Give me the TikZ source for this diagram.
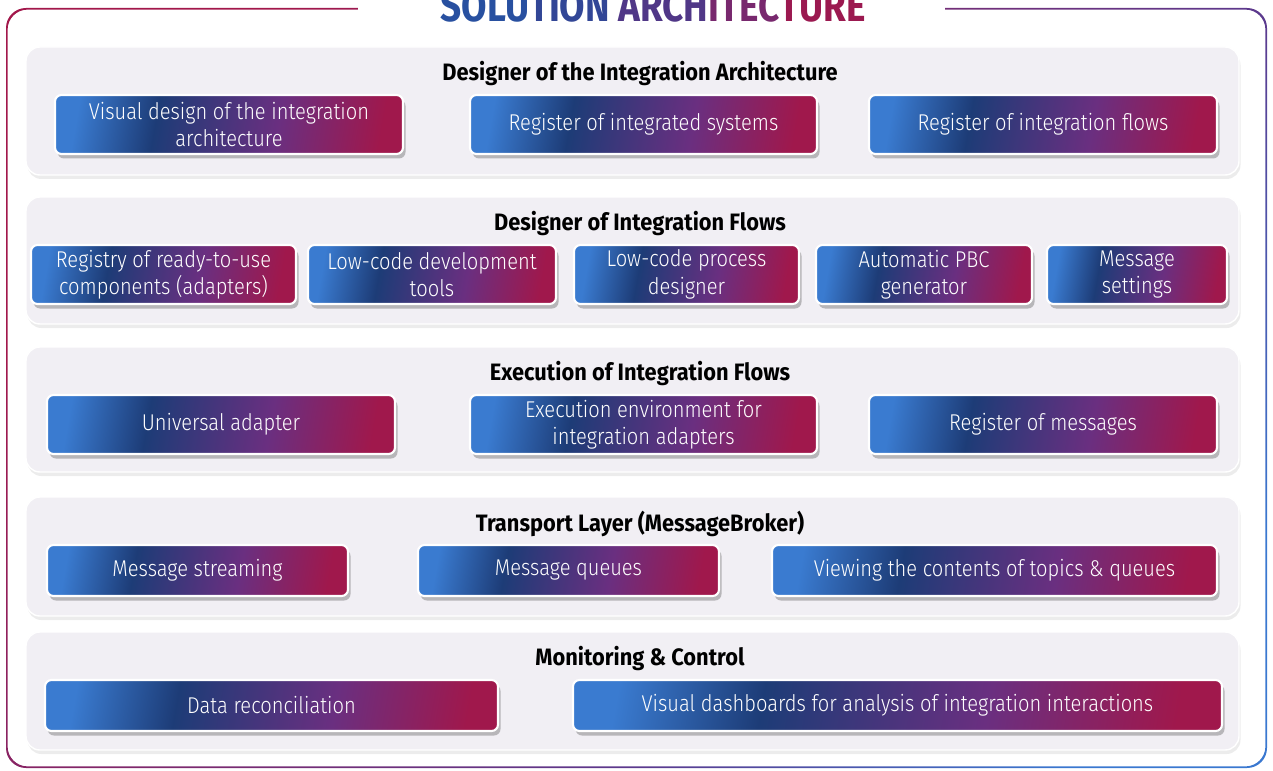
\documentclass[tikz,border=0pt]{standalone}
\usepackage{fontspec}
\usepackage{tikz}
\usetikzlibrary{shadows}
\newfontfamily\boxFont{Fira Sans Light}[FakeStretch=0.88]
\newfontfamily\layerFont{Fira Sans}[FakeStretch=0.92]
\newfontfamily\headFont{Fira Sans}[FakeStretch=0.84]
\definecolor{gradBlue}{RGB}{58,123,208}
\definecolor{gradNavy}{RGB}{29,60,119}
\definecolor{gradPurple}{RGB}{106,47,128}
\definecolor{gradCrimson}{RGB}{160,24,76}
\definecolor{panelGrey}{RGB}{241,239,244}
\definecolor{frameRed}{RGB}{162,23,75}
\definecolor{framePurple}{RGB}{91,58,142}
\definecolor{frameBlue}{RGB}{58,120,208}
\definecolor{headA}{RGB}{40,80,160}
\definecolor{headB}{RGB}{50,70,150}
\definecolor{headC}{RGB}{80,55,135}
\definecolor{headD}{RGB}{120,40,110}
\definecolor{headE}{RGB}{155,25,80}
\pgfdeclarehorizontalshading{boxGrad}{100bp}{color(0bp)=(gradBlue); color(25bp)=(gradBlue); color(38bp)=(gradNavy); color(58bp)=(gradPurple); color(75bp)=(gradCrimson); color(100bp)=(gradCrimson)}
\pgfdeclarehorizontalshading{frameGrad}{100bp}{color(0bp)=(frameRed); color(25bp)=(frameRed); color(62bp)=(framePurple); color(78bp)=(frameBlue); color(100bp)=(frameBlue)}
\tikzstyle{board} = [x = 0.02cm, y = -0.02cm]
\tikzstyle{compStyle} = [shade, shading=boxGrad, shading angle=-10, draw=white, line width=1.2pt, rounded corners=.13cm, drop shadow={shadow xshift=.05cm, shadow yshift=-.09cm, opacity=.35, fill=black!70}]
\tikzstyle{compText} = [text=white, align=center, font=\boxFont\fontsize{13}{15.6}\selectfont]
\tikzstyle{panelStyle} = [fill=panelGrey, draw=white, line width=.8pt, rounded corners=.28cm, drop shadow={shadow xshift=.03cm, shadow yshift=-.08cm, opacity=.12, fill=black!60}]
\tikzstyle{layerText} = [text=black, font=\layerFont\bfseries\fontsize{13.5}{15}\selectfont]
\newcommand{\compBox}[6]{\path [compStyle] (#2,#3) rectangle (#4,#5); \node [compText] (#1) at ({(#2+#4)/2},{(#3+#5)/2}) {#6};}
\newcommand{\layerPanel}[5]{\path [panelStyle] (26,#2) rectangle (1239,#3); \node [layerText] (#1) at (640,#4) {#5};}
\begin{document}
\begin{tikzpicture}[board]
  \useasboundingbox (0,0) rectangle (1273,770);
  \clip (0,0) rectangle (1273,770);
  % outer frame
  \shade [shading=frameGrad, shading angle=-40, even odd rule, rounded corners=.4cm]
    (6,8) rectangle (1267,768) (7.6,9.6) rectangle (1265.4,766.4);
  \fill [white] (358,0) rectangle (945,20);
  \node [anchor=base, inner sep=0pt, font=\headFont\bfseries\fontsize{25}{25}\selectfont] (heading) at (653,22)
    {\textcolor{headA}{SOLU}\textcolor{headB}{TION} \textcolor{headC}{ARCH}\textcolor{headD}{ITEC}\textcolor{headE}{TURE}};

  % layers
  \layerPanel{architect}{47}{175}{73.5}{Designer of the Integration Architecture}
  \layerPanel{flows}{197}{324}{223.5}{Designer of Integration Flows}
  \layerPanel{execution}{347}{472}{373.5}{Execution of Integration Flows}
  \layerPanel{transport}{497}{616}{523.5}{Transport Layer (MessageBroker)}
  \layerPanel{monitoring}{632}{750}{658.5}{Monitoring \& Control}

  \compBox{visualDesign}{55}{95}{403}{154}{Visual design of the integration\\architecture}
  \compBox{systemsReg}{470}{95}{817}{154}{Register of integrated systems}
  \compBox{flowsReg}{869}{95}{1217}{154}{Register of integration flows}

  \compBox{readyComps}{31}{245}{296}{304}{Registry of ready-to-use\\components (adapters)}
  \compBox{lowCodeTools}{308}{245}{556}{304}{Low-code development\\tools}
  \compBox{processDesigner}{574}{245}{799}{304}{Low-code process\\designer}
  \compBox{pbcGen}{816}{245}{1032}{304}{Automatic PBC\\generator}
  \compBox{msgSettings}{1047}{245}{1227}{304}{Message\\settings}

  \compBox{universal}{47}{395}{395}{454}{Universal adapter}
  \compBox{execEnv}{470}{395}{817}{454}{Execution environment for\\integration adapters}
  \compBox{msgReg}{869}{395}{1217}{454}{Register of messages}

  \compBox{streaming}{47}{545}{348}{596}{Message streaming}
  \compBox{queues}{418}{545}{719}{596}{Message queues}
  \compBox{topics}{772}{545}{1217}{596}{Viewing the contents of topics \& queues}

  \compBox{reconcile}{45}{680}{498}{731}{Data reconciliation}
  \compBox{dashboards}{573}{680}{1222}{731}{Visual dashboards for analysis of integration interactions}
\end{tikzpicture}
\end{document}
